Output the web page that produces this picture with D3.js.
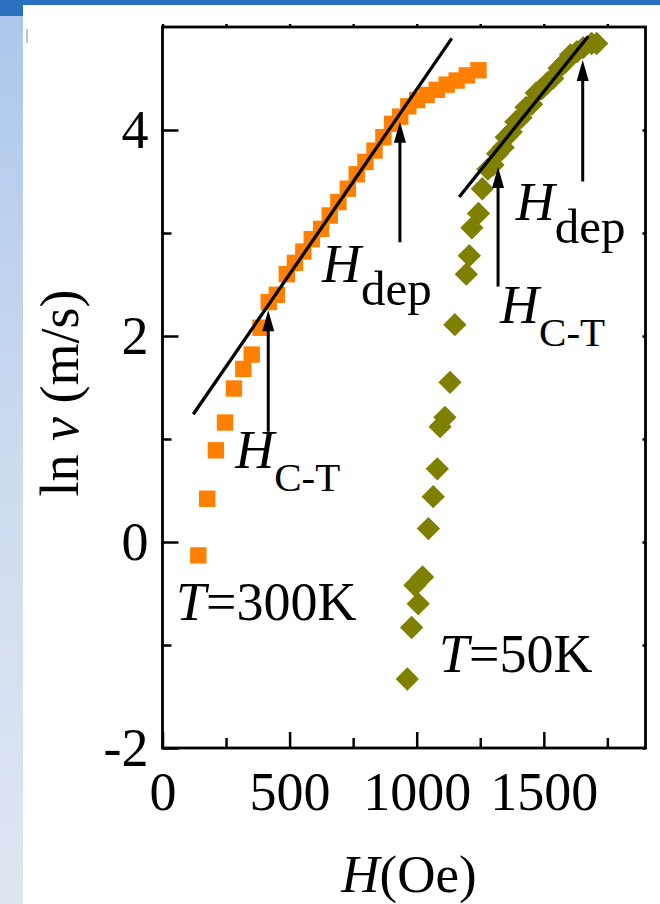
<!DOCTYPE html>
<html>
<head>
<meta charset="utf-8">
<script src="https://cdn.jsdelivr.net/npm/d3@7"></script>
<style>
  html, body { margin: 0; padding: 0; background: #ffffff; }
  svg { display: block; }
  text { font-family: "Liberation Serif", "Times New Roman", "DejaVu Serif", serif; fill: #000; }
</style>
</head>
<body>
<svg id="chart" width="660" height="904"></svg>
<script>
// Domain-wall velocity vs. applied field, two temperatures
const field300 = [141, 176, 210, 246, 281, 318, 351, 386, 418, 450, 489, 521, 554, 587, 624, 658, 692, 729, 764, 798, 834, 869, 903, 935, 967, 1002, 1039, 1079, 1118, 1157, 1197, 1243];
const lnv300   = [-0.13, 0.42, 0.89, 1.16, 1.49, 1.68, 1.82, 2.08, 2.33, 2.40, 2.60, 2.71, 2.82, 2.94, 3.04, 3.17, 3.30, 3.43, 3.57, 3.69, 3.80, 3.93, 4.06, 4.13, 4.23, 4.29, 4.34, 4.39, 4.44, 4.48, 4.53, 4.58];

const field50 = [963, 980, 1006, 993, 1023, 1046, 1065, 1081, 1092, 1111, 1131, 1150, 1195, 1207, 1217, 1243, 1258, 1280, 1300, 1318, 1340, 1352, 1372, 1390, 1410, 1430, 1452, 1470, 1492, 1515, 1535, 1560, 1585, 1605, 1630, 1655, 1688, 1708];
const lnv50   = [-1.33, -0.83, -0.60, -0.42, -0.34, 0.13, 0.44, 0.71, 1.12, 1.21, 1.55, 2.11, 2.60, 2.78, 3.05, 3.19, 3.43, 3.62, 3.66, 3.77, 3.83, 3.93, 3.98, 4.08, 4.12, 4.22, 4.25, 4.36, 4.40, 4.46, 4.50, 4.60, 4.66, 4.73, 4.76, 4.80, 4.84, 4.84];

// Linear fits (endpoints in H, ln v)
const fitField300 = [121, 1138];
const fitLnv300   = [1.24, 4.89];
const fitField50  = [1167, 1675];
const fitLnv50    = [3.35, 4.91];

// Arrow markers: field position, tail and tip in ln v
const arrowField = [416, 934, 1320, 1653];
const arrowTail  = [1.07, 2.91, 2.48, 3.50];
const arrowTip   = [2.25, 4.08, 3.64, 4.68];
const arrowSub   = ["C-T", "dep", "C-T", "dep"];

const xTicks = [0, 500, 1000, 1500];
const xMinor = [250, 750, 1250, 1750];
const yTicks = [-2, 0, 2, 4];
const yMinor = [-1, 1, 3];

const svg = d3.select("#chart");

// ---- page backdrop ----
const defs = svg.append("defs");
const grad = defs.append("linearGradient").attr("id", "sideGrad")
  .attr("x1", 0).attr("y1", 0).attr("x2", 0).attr("y2", 1);
grad.append("stop").attr("offset", "0%").attr("stop-color", "#abc7eb");
grad.append("stop").attr("offset", "55%").attr("stop-color", "#cfdcef");
grad.append("stop").attr("offset", "100%").attr("stop-color", "#dfe5f0");

svg.append("rect").attr("width", 660).attr("height", 904).attr("fill", "#ffffff");
svg.append("rect").attr("x", 0).attr("y", 0).attr("width", 23).attr("height", 904).attr("fill", "url(#sideGrad)");
svg.append("rect").attr("x", 0).attr("y", 0).attr("width", 660).attr("height", 5).attr("fill", "#2b6fbf");
svg.append("rect").attr("x", 0).attr("y", 0).attr("width", 23).attr("height", 16).attr("fill", "#2b6fbf");
svg.append("line").attr("x1", 27).attr("x2", 27).attr("y1", 29).attr("y2", 43)
  .attr("stroke", "#9a9a9a").attr("stroke-width", 1.2);

// ---- scales ----
const plotL = 162.5, plotR = 645.5, plotT = 27, plotB = 748;
const x = d3.scaleLinear().domain([0, 1900]).range([plotL, plotR]);
const y = d3.scaleLinear().domain([-2, 5]).range([plotB, plotT]);

const fmt = d => String(d);

// major / minor ticks on left and bottom, pointing inward
const gY = svg.append("g").attr("transform", `translate(${plotL},0)`)
  .call(d3.axisLeft(y).tickValues(yTicks).tickFormat(fmt).tickSizeInner(-16).tickSizeOuter(0).tickPadding(14));
const gYm = svg.append("g").attr("transform", `translate(${plotL},0)`)
  .call(d3.axisLeft(y).tickValues(yMinor).tickFormat("").tickSizeInner(-9).tickSizeOuter(0));
const gX = svg.append("g").attr("transform", `translate(0,${plotB})`)
  .call(d3.axisBottom(x).tickValues(xTicks).tickFormat(fmt).tickSizeInner(-16).tickSizeOuter(0).tickPadding(24));
const gXm = svg.append("g").attr("transform", `translate(0,${plotB})`)
  .call(d3.axisBottom(x).tickValues(xMinor).tickFormat("").tickSizeInner(-10).tickSizeOuter(0));
// small ticks on the top and right edges
const gT = svg.append("g").attr("transform", `translate(0,${plotT})`)
  .call(d3.axisTop(x).tickValues(xTicks.concat(xMinor)).tickFormat("").tickSizeInner(3).tickSizeOuter(0));
const gR = svg.append("g").attr("transform", `translate(${plotR},0)`)
  .call(d3.axisRight(y).tickValues(yTicks.concat(yMinor)).tickFormat("").tickSizeInner(-3).tickSizeOuter(0));

[gY, gYm, gX, gXm, gT, gR].forEach(g => {
  g.select(".domain").remove();
  g.selectAll(".tick line").attr("stroke", "#000").attr("stroke-width", 2.5);
  g.selectAll(".tick text")
    .attr("fill", "#000")
    .style("font-family", '"Liberation Serif", "Times New Roman", serif')
    .style("font-size", "54px");
});

// plot frame
svg.append("rect").attr("x", plotL).attr("y", plotT)
  .attr("width", plotR - plotL).attr("height", plotB - plotT)
  .attr("fill", "none").attr("stroke", "#000").attr("stroke-width", 2.8);

// ---- data markers ----
const s300 = field300.map((h, i) => ({ h, v: lnv300[i] }));
const s50 = field50.map((h, i) => ({ h, v: lnv50[i] }));

svg.append("g").selectAll("rect").data(s300).join("rect")
  .attr("x", d => x(d.h) - 8.2).attr("y", d => y(d.v) - 8.2)
  .attr("width", 16.4).attr("height", 16.4)
  .attr("fill", "#ff8000");

const diamond = d3.symbol().type(d3.symbolSquare).size(16.5 * 16.5);
svg.append("g").selectAll("path").data(s50).join("path")
  .attr("d", diamond)
  .attr("transform", d => `translate(${x(d.h)},${y(d.v)}) rotate(45)`)
  .attr("fill", "#808000");

// ---- fit lines ----
const line = d3.line().x(d => x(d[0])).y(d => y(d[1]));
svg.append("path").datum(fitField300.map((h, i) => [h, fitLnv300[i]]))
  .attr("d", line).attr("fill", "none").attr("stroke", "#000").attr("stroke-width", 3.3);
svg.append("path").datum(fitField50.map((h, i) => [h, fitLnv50[i]]))
  .attr("d", line).attr("fill", "none").attr("stroke", "#000").attr("stroke-width", 3.3);

// ---- arrows ----
const headLen = 21, headW = 12;
arrowField.forEach((h, i) => {
  const ax = x(h), yTip = y(arrowTip[i]), yTail = y(arrowTail[i]);
  svg.append("line").attr("x1", ax).attr("x2", ax)
    .attr("y1", yTail).attr("y2", yTip + headLen - 2)
    .attr("stroke", "#000").attr("stroke-width", 3);
  svg.append("path")
    .attr("d", `M${ax},${yTip} L${ax - headW / 2},${yTip + headLen} L${ax + headW / 2},${yTip + headLen} Z`)
    .attr("fill", "#000");
});

// ---- arrow labels: italic H with subscript ----
const labelOffset = [[-33, 36], [-78, 40], [2, 36], [-67, 38]];
arrowField.forEach((h, i) => {
  const ax = x(h), yTail = y(arrowTail[i]);
  const t = svg.append("text")
    .attr("x", ax + labelOffset[i][0]).attr("y", yTail + labelOffset[i][1])
    .style("font-size", "54px");
  t.append("tspan").style("font-style", "italic").text("H");
  const sub = arrowSub[i];
  t.append("tspan").attr("dy", 23)
    .style("font-size", sub === "dep" ? "49px" : "41px")
    .text(sub);
});

// temperature labels
function tempLabel(px, py, rest) {
  const t = svg.append("text").attr("x", px).attr("y", py).style("font-size", "54px");
  t.append("tspan").style("font-style", "italic").text("T");
  t.append("tspan").text(rest);
}
tempLabel(176, 620, "=300K");
tempLabel(439, 672, "=50K");

// ---- axis titles ----
const xt = svg.append("text").attr("x", 409).attr("y", 892)
  .attr("text-anchor", "middle").style("font-size", "53px");
xt.append("tspan").style("font-style", "italic").text("H");
xt.append("tspan").text("(Oe)");

const yt = svg.append("text")
  .attr("transform", "translate(78,393) rotate(-90)")
  .attr("text-anchor", "middle").style("font-size", "54px");
yt.append("tspan").text("ln ");
yt.append("tspan").style("font-style", "italic").text("v");
yt.append("tspan").text(" (m/s)");
</script>
</body>
</html>
